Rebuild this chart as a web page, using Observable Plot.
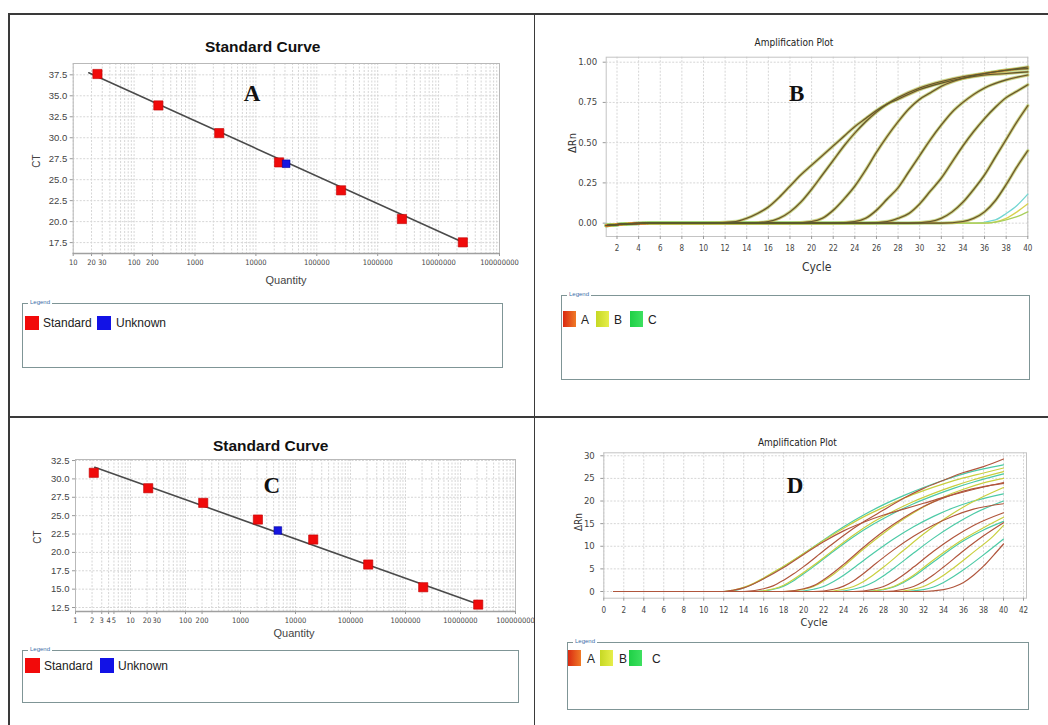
<!DOCTYPE html>
<html><head><meta charset="utf-8">
<script src="https://cdn.jsdelivr.net/npm/d3@7"></script>
<script src="https://cdn.jsdelivr.net/npm/@observablehq/plot@0.6"></script>
<style>
html,body{margin:0;padding:0;background:#fff;}
#root{position:relative;width:1048px;height:725px;overflow:hidden;font-family:"Liberation Sans",Arial,sans-serif;color:#333;}
.ln{position:absolute;background:#3a3a3a;}
.t{position:absolute;white-space:nowrap;transform:translate(-50%,-50%);line-height:1;}
.rot{transform:translate(-50%,-50%) rotate(-90deg);}
.title{font-weight:bold;font-size:15.5px;color:#111;}
.ax{font-size:11px;color:#444;}
.amp{font-family:"Liberation Sans Narrow","DejaVu Sans Condensed",sans-serif;font-size:10px;color:#222;}
.ampx{font-family:"Liberation Sans Narrow","DejaVu Sans Condensed",sans-serif;font-size:12px;color:#333;}
.letter{font-family:"Liberation Serif","Times New Roman",serif;font-weight:bold;font-size:23px;color:#111;}
.lgbox{position:absolute;border:1.5px solid #7f9596;box-sizing:border-box;}
.lgtag{position:absolute;top:-5px;left:5px;background:#fff;font-size:6px;line-height:7px;color:#3b6ea8;padding:0 2px;}
.sw{position:absolute;}
.lt{position:absolute;font-size:12px;line-height:1;transform:translateY(-50%);color:#222;white-space:nowrap;}
.plot{position:absolute;}
.plot svg{overflow:visible;}
</style></head><body><div id="root"></div>
<script>
// ---------------- Panel A: standard curve ----------------
const qtyTicksA = [10, 20, 30, 100, 200, 1000, 10000, 100000, 1000000, 10000000, 100000000];
const ctTicksA = [17.5, 20, 22.5, 25, 27.5, 30, 32.5, 35, 37.5];
const stdQtyA = [25, 250, 2500, 24000, 250000, 2500000, 25000000];
const stdCtA = [37.6, 33.85, 30.55, 27.06, 23.73, 20.31, 17.53];
const unkQtyA = [31400];
const unkCtA = [26.9];
const fitQtyA = [18, 25000000];
const fitCtA = [37.75, 17.55];

// ---------------- Panel C: standard curve ----------------
const qtyTicksC = [1, 2, 3, 4, 5, 10, 20, 30, 100, 200, 1000, 10000, 100000, 1000000, 10000000, 100000000];
const ctTicksC = [12.5, 15, 17.5, 20, 22.5, 25, 27.5, 30, 32.5];
const stdQtyC = [2.15, 21, 210, 2070, 21000, 210000, 2100000, 21000000];
const stdCtC = [30.83, 28.73, 26.74, 24.47, 21.75, 18.35, 15.26, 12.9];
const unkQtyC = [4780];
const unkCtC = [22.98];
const fitQtyC = [2.24, 23000000];
const fitCtC = [31.59, 12.86];

// ---------------- Panel B: amplification plot (ΔRn 0-1) ----------------
const cycleTicksB = [2,4,6,8,10,12,14,16,18,20,22,24,26,28,30,32,34,36,38,40];
const rnTicksB = [0, 0.25, 0.5, 0.75, 1.0];
const ampB1 = [[1,-0.015],[5,0],[10,0],[13,0.01],[14,0.03],[15,0.06],[16,0.1],[17,0.16],[18,0.23],[19,0.3],[20,0.36],[21,0.42],[22,0.48],[23,0.54],[24,0.6],[25,0.65],[26,0.7],[27,0.74],[28,0.77],[30,0.83],[32,0.87],[34,0.9],[36,0.92],[38,0.93],[40,0.94]];
const ampB2 = [[1,-0.015],[5,0],[14,0],[16,0.01],[17,0.03],[18,0.07],[19,0.13],[20,0.21],[21,0.3],[22,0.39],[23,0.48],[24,0.56],[25,0.63],[26,0.69],[27,0.74],[28,0.78],[30,0.84],[32,0.88],[34,0.91],[36,0.93],[38,0.95],[40,0.96]];
const ampB3 = [[1,-0.015],[5,0],[18,0],[20,0.01],[21,0.03],[22,0.08],[23,0.15],[24,0.23],[25,0.33],[26,0.44],[27,0.54],[28,0.63],[29,0.71],[30,0.77],[31,0.81],[32,0.85],[34,0.9],[36,0.93],[38,0.95],[40,0.97]];
const ampB4 = [[1,-0.015],[5,0],[22,0],[24,0.01],[25,0.03],[26,0.08],[27,0.15],[28,0.22],[29,0.32],[30,0.42],[31,0.52],[32,0.61],[33,0.69],[34,0.75],[35,0.8],[36,0.84],[38,0.89],[40,0.92]];
const ampB5 = [[1,-0.015],[5,0],[25,0],[27,0.01],[28,0.03],[29,0.06],[30,0.12],[31,0.2],[32,0.28],[33,0.38],[34,0.48],[35,0.57],[36,0.65],[37,0.72],[38,0.78],[39,0.82],[40,0.86]];
const ampB6 = [[1,-0.015],[5,0],[29,0],[31,0.01],[32,0.03],[33,0.07],[34,0.13],[35,0.21],[36,0.3],[37,0.41],[38,0.52],[39,0.63],[40,0.73]];
const ampB7 = [[1,-0.015],[5,0],[32,0],[34,0.01],[35,0.03],[36,0.07],[37,0.14],[38,0.24],[39,0.35],[40,0.45]];
const ampB8c = [[1,-0.01],[5,0],[35,0],[37,0.02],[38,0.06],[39,0.11],[40,0.18]];
const ampB8b = [[1,-0.01],[5,0],[36,0],[38,0.03],[39,0.07],[40,0.12]];
const ampB8a = [[1,-0.01],[5,0],[36,0],[38,0.02],[39,0.04],[40,0.07]];

// ---------------- Panel D: amplification plot (ΔRn 0-30) ----------------
const cycleTicksD = [0,2,4,6,8,10,12,14,16,18,20,22,24,26,28,30,32,34,36,38,40,42];
const rnTicksD = [0, 5, 10, 15, 20, 25, 30];
const dA1 = [[1,0],[12,0],[13,0.3],[14,0.8],[16,2.8],[18,5.3],[20,8.2],[22,11],[24,13.4],[26,15.3],[28,16.9],[30,18.2],[32,19.5],[34,20.8],[36,22],[38,23.1],[40,24.1]];
const dB1 = [[1,0],[12,0],[13,0.3],[14,0.9],[15,1.8],[16,3],[17,4.3],[18,5.6],[20,8.4],[22,11.3],[24,14],[26,16.5],[28,18.6],[30,20.6],[32,22.3],[34,23.8],[36,25.1],[38,26.2],[40,27.3]];
const dC1 = [[1,0],[12,0],[13,0.2],[14,0.8],[15,1.7],[16,2.9],[17,4.2],[18,5.5],[20,8.4],[22,11.4],[24,14.3],[26,16.9],[28,19.2],[30,21.2],[32,23],[34,24.6],[36,26],[38,27.1],[40,28]];
const dA2 = [[1,0],[14,0],[16,0.6],[17,1.3],[18,2.5],[19,3.9],[20,5.5],[22,9],[24,12.4],[26,15.4],[28,18],[30,20.6],[32,22.8],[34,24.6],[36,26.3],[38,27.6],[40,29.3]];
const dB2 = [[1,0],[15,0],[17,0.6],[18,1.4],[19,2.7],[20,4.2],[21,5.8],[23,9.2],[25,12.5],[27,15.4],[29,17.8],[31,19.9],[33,21.7],[35,23.3],[37,24.7],[40,26.5]];
const dC2 = [[1,0],[15,0],[17,0.5],[18,1.2],[19,2.4],[20,3.9],[21,5.5],[23,8.9],[25,12.1],[27,14.9],[29,17.3],[31,19.4],[33,21.2],[35,22.8],[37,24.2],[40,26]];
const dA3 = [[1,0],[18,0],[20,0.6],[21,1.3],[22,2.6],[23,4.2],[24,6],[26,9.8],[28,13.3],[30,16.3],[32,18.8],[34,20.7],[36,22.2],[38,23.2],[40,23.9]];
const dB3 = [[1,0],[18,0],[20,0.5],[21,1.1],[22,2.3],[23,3.8],[24,5.6],[26,9.4],[28,12.9],[30,16],[32,18.7],[34,20.9],[36,22.6],[38,24],[40,25]];
const dC3 = [[1,0],[19,0],[21,0.5],[22,1.1],[23,2.2],[24,3.6],[25,5.2],[27,8.5],[29,11.6],[31,14.3],[33,16.6],[35,18.5],[37,20],[40,21.6]];
const dA4 = [[1,0],[21,0],[23,0.5],[24,1.2],[25,2.4],[26,4],[27,5.8],[29,9.2],[31,12.2],[33,14.7],[35,16.7],[37,18.2],[40,19.4]];
const dB4 = [[1,0],[22,0],[24,0.5],[25,1.1],[26,2.2],[27,3.7],[28,5.4],[30,9.1],[32,12.7],[34,15.9],[36,18.7],[38,21],[40,23]];
const dC4 = [[1,0],[23,0],[25,0.5],[26,1.1],[27,2.1],[28,3.5],[29,5.1],[31,8.5],[33,11.8],[35,14.7],[37,17.2],[40,20]];
const dA5 = [[1,0],[25,0],[27,0.5],[28,1.1],[29,2.2],[30,3.7],[31,5.4],[33,8.9],[35,12],[37,14.6],[40,17.4]];
const dB5 = [[1,0],[26,0],[28,0.5],[29,1.1],[30,2.2],[31,3.6],[32,5.3],[34,8.6],[36,11.6],[38,14.1],[40,16.4]];
const dC5 = [[1,0],[26,0],[28,0.4],[29,1],[30,2],[31,3.3],[32,4.9],[34,8.2],[36,11.2],[38,13.6],[40,15.5]];
const dA6 = [[1,0],[28,0],[30,0.5],[31,1.1],[32,2.2],[33,3.7],[34,5.4],[36,9],[38,12.3],[40,15.2]];
const dB6 = [[1,0],[29,0],[31,0.5],[32,1.1],[33,2.2],[34,3.6],[35,5.2],[37,8.7],[39,12.3],[40,14.6]];
const dC6 = [[1,0],[30,0],[32,0.4],[33,1],[34,2],[35,3.3],[36,4.8],[38,8.1],[40,11.6]];
const dA7 = [[1,0],[32,0],[34,0.4],[35,1],[36,2],[37,3.6],[38,5.6],[39,8],[40,10.5]];

// legend entries
const stdLegend = ["Standard", "Unknown"];
const ampLegend = ["A", "B", "C"];

// ====================================================================
const root = document.getElementById("root");
function el(cls, css, text) {
  const d = document.createElement("div");
  d.className = cls;
  Object.assign(d.style, css);
  if (text != null) d.textContent = text;
  root.appendChild(d);
  return d;
}
function place(svg, left, top) {
  const w = document.createElement("div");
  w.className = "plot";
  w.style.left = left + "px";
  w.style.top = top + "px";
  w.appendChild(svg);
  root.appendChild(w);
}
function logMinor(lo, hi) {
  const out = [];
  for (let e = Math.round(Math.log10(lo)); e < Math.round(Math.log10(hi)); e++)
    for (let m = 1; m <= 9; m++) out.push(m * Math.pow(10, e));
  out.push(hi);
  return out;
}
function rows(pts, id) { return pts.map(([c, v]) => ({cycle: c, value: v, id})); }

const sans = "Liberation Sans, Arial, sans-serif";
const narrow = "Liberation Sans Narrow, DejaVu Sans Condensed, sans-serif";
const grid = {stroke: "#d6d6d6", strokeOpacity: 1, strokeDasharray: "2,1.5"};

function stdPlot(o) {
  const stdRows = o.stdQty.map((q, i) => ({q, ct: o.stdCt[i]}));
  const unkRows = o.unkQty.map((q, i) => ({q, ct: o.unkCt[i]}));
  const fitRows = o.fitQty.map((q, i) => ({q, ct: o.fitCt[i]}));
  return Plot.plot({
    width: o.width, height: o.height,
    marginLeft: o.ml, marginRight: o.mr, marginTop: o.mt, marginBottom: o.mb,
    x: {type: "log", domain: o.xdom},
    y: {domain: o.ydom},
    style: {fontFamily: sans, fontSize: "9.5px", color: "#444", background: "transparent"},
    marks: [
      Plot.gridX(logMinor(o.xdom[0], o.xdom[1]), grid),
      Plot.gridY(o.yTicks, grid),
      Plot.frame({stroke: "#b9b9b9"}),
      Plot.axisY(o.yTicks, {tickFormat: d3.format(".1f"), tickSize: 3, tickPadding: 3, label: null, stroke: "#999"}),
      Plot.axisX(o.xTicks, {tickFormat: () => "", tickSize: 3, label: null, stroke: "#999"}),
      Plot.text(o.xTicks, {x: d => d, text: d => String(d), frameAnchor: "bottom", lineAnchor: "top", dy: 6,
        fontSize: 7.5, fontFamily: narrow, fill: "#444"}),
      Plot.ruleY([o.ydom[0]], {stroke: "#a0a0a0", strokeWidth: 1.5}),
      Plot.line(fitRows, {x: "q", y: "ct", stroke: "#4a4a4a", strokeWidth: 1.6}),
      Plot.dot(stdRows, {x: "q", y: "ct", symbol: "square", r: 5.2, fill: "#f00a0a", stroke: "#c00000", strokeWidth: 0.6}),
      Plot.dot(unkRows, {x: "q", y: "ct", symbol: "square", r: 4.3, fill: "#1515e0", stroke: "#0000a0", strokeWidth: 0.6})
    ]
  });
}

// Panel A
place(stdPlot({width: 510, height: 260, ml: 62.7, mr: 21, mt: 33, mb: 37,
  xdom: [10, 100000000], ydom: [16.2, 38.85], xTicks: qtyTicksA, yTicks: ctTicksA,
  stdQty: stdQtyA, stdCt: stdCtA, unkQty: unkQtyA, unkCt: unkCtA, fitQty: fitQtyA, fitCt: fitCtA}), 10, 30);
// Panel C
place(stdPlot({width: 510, height: 210, ml: 65, mr: 5, mt: 19, mb: 39,
  xdom: [1, 100000000], ydom: [11.96, 32.64], xTicks: qtyTicksC, yTicks: ctTicksC,
  stdQty: stdQtyC, stdCt: stdCtC, unkQty: unkQtyC, unkCt: unkCtC, fitQty: fitQtyC, fitCt: fitCtC}), 10, 440);

// Panel B
{
  const groups = [ampB1, ampB2, ampB3, ampB4, ampB5, ampB6, ampB7].flatMap((g, i) => rows(g, "g" + i));
  const tails = [rows(ampB8c, "c"), rows(ampB8b, "b"), rows(ampB8a, "a")];
  const tailColors = ["#73d6d2", "#d9d24e", "#a9cf5c"];
  const svg = Plot.plot({
    width: 500, height: 250, marginLeft: 65.7, marginRight: 12.7, marginTop: 26.7, marginBottom: 44,
    x: {domain: [1, 40]}, y: {domain: [-0.083, 1.031]},
    style: {fontFamily: narrow, fontSize: "9.5px", color: "#444", background: "transparent"},
    marks: [
      Plot.gridX(cycleTicksB, grid),
      Plot.gridY(rnTicksB, grid),
      Plot.frame({stroke: "#c4c4c4"}),
      Plot.axisY(rnTicksB, {tickFormat: d3.format(".2f"), tickSize: 3, label: null, stroke: "#999"}),
      Plot.axisX(cycleTicksB, {tickSize: 3, label: null, fontSize: 8, stroke: "#999"}),
      ...tails.map((t, i) => Plot.line(t, {x: "cycle", y: "value", stroke: tailColors[i], strokeWidth: 1.3, curve: "monotone-x"})),
      Plot.line(groups, {x: "cycle", y: "value", z: "id", stroke: "#9bd36a", strokeOpacity: 0.55, strokeWidth: 3.4, curve: "monotone-x"}),
      Plot.line(groups, {x: "cycle", y: "value", z: "id", stroke: "#e0b040", strokeOpacity: 0.45, strokeWidth: 2.4, curve: "monotone-x"}),
      Plot.line(groups, {x: "cycle", y: "value", z: "id", stroke: "#cc4a2a", strokeOpacity: 0.3, strokeWidth: 1.8, curve: "monotone-x"}),
      Plot.line(groups, {x: "cycle", y: "value", z: "id", stroke: "#5a5a2e", strokeWidth: 1.1, curve: "monotone-x"})
    ]
  });
  place(svg, 540, 30);
}

// Panel D
{
  const colA = "#b0553c", colB = "#c9cf3e", colC = "#4ccaa6";
  const setA = [dA1, dA2, dA3, dA4, dA5, dA6, dA7].flatMap((g, i) => rows(g, "A" + i));
  const setB = [dB1, dB2, dB3, dB4, dB5, dB6].flatMap((g, i) => rows(g, "B" + i));
  const setC = [dC1, dC2, dC3, dC4, dC5, dC6].flatMap((g, i) => rows(g, "C" + i));
  const svg = Plot.plot({
    width: 500, height: 210, marginLeft: 63.3, marginRight: 14, marginTop: 22.3, marginBottom: 42.3,
    x: {domain: [0, 42.3]}, y: {domain: [-1.48, 30.66]},
    style: {fontFamily: narrow, fontSize: "9.5px", color: "#444", background: "transparent"},
    marks: [
      Plot.gridX(cycleTicksD, grid),
      Plot.gridY(rnTicksD, grid),
      Plot.frame({stroke: "#c4c4c4"}),
      Plot.axisY(rnTicksD, {tickSize: 3, label: null, stroke: "#999"}),
      Plot.axisX(cycleTicksD, {tickSize: 3, label: null, fontSize: 8, stroke: "#999"}),
      Plot.line(setC, {x: "cycle", y: "value", z: "id", stroke: colC, strokeWidth: 1.2, curve: "monotone-x"}),
      Plot.line(setB, {x: "cycle", y: "value", z: "id", stroke: colB, strokeWidth: 1.2, curve: "monotone-x"}),
      Plot.line(setA, {x: "cycle", y: "value", z: "id", stroke: colA, strokeWidth: 1.2, curve: "monotone-x"})
    ]
  });
  place(svg, 540, 430);
}

// ---------------- texts ----------------
el("t title", {left: "262.7px", top: "46.7px"}, "Standard Curve");
el("t letter", {left: "252px", top: "93px"}, "A");
el("t ax rot", {left: "37px", top: "161px", fontSize: "10px"}, "CT");
el("t ax", {left: "286px", top: "280px"}, "Quantity");

el("t amp", {left: "794px", top: "43px"}, "Amplification Plot");
el("t letter", {left: "796.7px", top: "92.7px"}, "B");
el("t ampx rot", {left: "571.7px", top: "143px", fontSize: "11px"}, "ΔRn");
el("t ampx", {left: "816.7px", top: "267px"}, "Cycle");

el("t title", {left: "270.7px", top: "446px"}, "Standard Curve");
el("t letter", {left: "271.7px", top: "485px"}, "C");
el("t ax rot", {left: "38.3px", top: "536.7px", fontSize: "10px"}, "CT");
el("t ax", {left: "294px", top: "633.3px"}, "Quantity");

el("t amp", {left: "797.3px", top: "443.3px"}, "Amplification Plot");
el("t letter", {left: "795px", top: "485px"}, "D");
el("t ampx rot", {left: "579px", top: "521.7px", fontSize: "10px"}, "ΔRn");
el("t ampx", {left: "814px", top: "621.7px", fontSize: "11px"}, "Cycle");

// ---------------- legends ----------------
function legendBox(l, t, w, h) {
  const b = el("lgbox", {left: l + "px", top: t + "px", width: w + "px", height: h + "px"});
  const tag = document.createElement("div");
  tag.className = "lgtag"; tag.textContent = "Legend";
  b.appendChild(tag);
}
legendBox(22, 303, 481, 65);
el("sw", {left: "25px", top: "316px", width: "14px", height: "14px", background: "#f20a0a"});
el("lt", {left: "43px", top: "323px"}, stdLegend[0]);
el("sw", {left: "97px", top: "316px", width: "14px", height: "14px", background: "#1212e6"});
el("lt", {left: "116px", top: "323px"}, stdLegend[1]);

legendBox(22, 650, 497, 53);
el("sw", {left: "25px", top: "658px", width: "15px", height: "15px", background: "#f20a0a"});
el("lt", {left: "44px", top: "666px"}, stdLegend[0]);
el("sw", {left: "100px", top: "658px", width: "14px", height: "15px", background: "#1212e6"});
el("lt", {left: "118px", top: "666px"}, stdLegend[1]);

const ampSw = ["linear-gradient(90deg,#d92a12,#f07a26)", "linear-gradient(90deg,#c6d824,#e6ee4a)", "linear-gradient(90deg,#1fd046,#3ee060)"];
legendBox(561, 295, 469, 85);
[[563, 581], [596, 614], [630, 648]].forEach(([sx, tx], i) => {
  el("sw", {left: sx + "px", top: "311px", width: "13px", height: "16px", background: ampSw[i]});
  el("lt", {left: tx + "px", top: "320px"}, ampLegend[i]);
});
legendBox(567, 642, 462, 68);
[[568, 587], [600, 619], [629, 652]].forEach(([sx, tx], i) => {
  el("sw", {left: sx + "px", top: "650px", width: "13px", height: "16px", background: ampSw[i]});
  el("lt", {left: tx + "px", top: "659px"}, ampLegend[i]);
});

// ---------------- table borders ----------------
el("ln", {left: "8px", top: "13px", width: "1040px", height: "1.5px"});
el("ln", {left: "8px", top: "13px", width: "1.5px", height: "712px"});
el("ln", {left: "533.5px", top: "13px", width: "1.5px", height: "712px"});
el("ln", {left: "8px", top: "416px", width: "1040px", height: "1.5px"});
</script></body></html>
